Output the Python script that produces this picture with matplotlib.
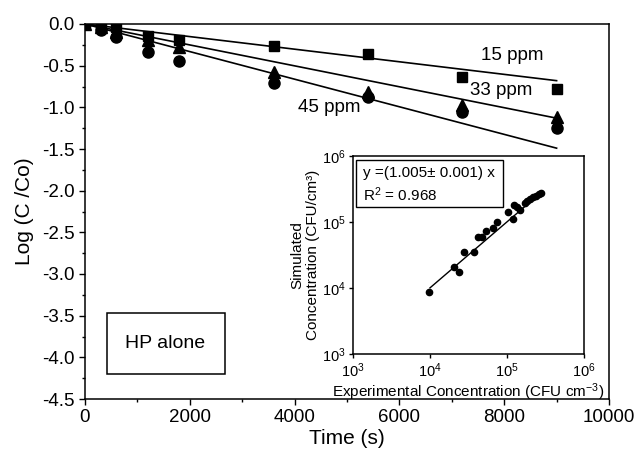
import numpy as np
import matplotlib
matplotlib.use("Agg")
import matplotlib.pyplot as plt
from matplotlib.ticker import MultipleLocator, LogLocator, NullLocator
from matplotlib.patches import Rectangle

plt.rcParams["font.family"] = ["Liberation Sans", "DejaVu Sans"]
plt.rcParams["mathtext.fontset"] = "custom"
plt.rcParams["mathtext.rm"] = "Liberation Sans"
plt.rcParams["mathtext.it"] = "Liberation Sans:italic"
plt.rcParams["mathtext.bf"] = "Liberation Sans:bold"
plt.rcParams["axes.unicode_minus"] = False

# main panel: log(C/Co) vs time for three HP doses
time_s = [0, 300, 600, 1200, 1800, 3600, 5400, 7200, 9000]
log_15 = [0, -0.02, -0.04, -0.14, -0.19, -0.26, -0.36, -0.63, -0.78]
log_33 = [0, -0.04, -0.09, -0.19, -0.28, -0.57, -0.81, -0.97, -1.12]
log_45 = [0, -0.07, -0.16, -0.34, -0.44, -0.71, -0.87, -1.05, -1.25]

# linear fits through origin
fit_t = [0, 9000]
fit_15 = [0, -0.68]
fit_33 = [0, -1.13]
fit_45 = [0, -1.49]

# inset: simulated vs experimental concentration
exp_conc = [9.8e3, 2.05e4, 2.38e4, 2.79e4, 3.69e4, 4.24e4, 4.69e4, 5.33e4, 6.64e4, 7.48e4,
            1.02e5, 1.19e5, 1.24e5, 1.36e5, 1.47e5, 1.71e5, 1.80e5, 1.99e5, 2.20e5, 2.38e5,
            2.58e5, 2.79e5]
sim_conc = [8.8e3, 2.06e4, 1.77e4, 3.47e4, 3.55e4, 5.86e4, 5.86e4, 7.3e4, 8.0e4, 1.01e5,
            1.43e5, 1.10e5, 1.81e5, 1.71e5, 1.51e5, 1.92e5, 2.10e5, 2.20e5, 2.37e5, 2.48e5,
            2.63e5, 2.78e5]
fit_x = np.array([1e4, 2.8e5])
fit_slope = 1.005

fig = plt.figure(figsize=(6.38, 4.54), dpi=100)
ax = fig.add_axes([85 / 638, 1 - 399 / 454, 524 / 638, 375 / 454])

for y in [fit_15, fit_33, fit_45]:
    ax.plot(fit_t, y, color="black", lw=1.2, zorder=2)
ax.plot(time_s, log_15, "s", color="black", ms=7, zorder=3)
ax.plot(time_s, log_33, "^", color="black", ms=8, zorder=3)
ax.plot(time_s, log_45, "o", color="black", ms=8, zorder=3)

ax.set_xlim(0, 10000)
ax.set_ylim(-4.5, 0)
ax.xaxis.set_major_locator(MultipleLocator(2000))
ax.xaxis.set_minor_locator(MultipleLocator(1000))
ax.yaxis.set_major_locator(MultipleLocator(0.5))
ax.yaxis.set_minor_locator(MultipleLocator(0.25))
ax.yaxis.set_major_formatter(lambda v, p: f"{v:.1f}")
ax.tick_params(which="major", direction="out", length=4, width=1, labelsize=13.5,
               top=False, right=False)
ax.tick_params(which="minor", direction="out", length=2.5, width=1, top=False, right=False)
for s in ax.spines.values():
    s.set_linewidth(1.1)

ax.set_xlabel("Time (s)", fontsize=15, labelpad=2)
ax.set_ylabel("Log (C /Co)", fontsize=15, labelpad=6)

ax.text(8150, -0.38, "15 ppm", fontsize=13.5, ha="center", va="center")
ax.text(7950, -0.80, "33 ppm", fontsize=13.5, ha="center", va="center")
ax.text(4660, -1.00, "45 ppm", fontsize=13.5, ha="center", va="center")

ax.add_patch(Rectangle((0.042, 0.067), 0.225, 0.162, transform=ax.transAxes,
                       fill=False, ec="black", lw=1.1))
ax.text(0.153, 0.149, "HP alone", transform=ax.transAxes, fontsize=14,
        ha="center", va="center")

# inset
ax_in = fig.add_axes([353 / 638, 1 - 354 / 454, 231 / 638, 198 / 454])
ax_in.set_xscale("log")
ax_in.set_yscale("log")
ax_in.plot(fit_x, fit_slope * fit_x, color="black", lw=1)
ax_in.plot(exp_conc, sim_conc, "o", color="black", ms=4.5)
ax_in.set_xlim(1e3, 1e6)
ax_in.set_ylim(1e3, 1e6)
ax_in.xaxis.set_major_locator(LogLocator(base=10, numticks=10))
ax_in.yaxis.set_major_locator(LogLocator(base=10, numticks=10))
ax_in.xaxis.set_minor_locator(NullLocator())
ax_in.yaxis.set_minor_locator(NullLocator())
ax_in.tick_params(direction="out", length=3, width=1, labelsize=10.5, pad=2)
for s in ax_in.spines.values():
    s.set_linewidth(1.1)
ax_in.set_xlabel("Experimental Concentration (CFU cm$^{-3}$)", fontsize=11, labelpad=1)
ax_in.set_ylabel("Simulated\nConcentration (CFU/cm\u00b3)", fontsize=11, labelpad=2,
                 linespacing=1.1)

ax_in.add_patch(Rectangle((0.013, 0.742), 0.636, 0.238, transform=ax_in.transAxes,
                          fill=False, ec="black", lw=1))
ax_in.text(0.045, 0.915, "y =(1.005\u00b1 0.001) x", transform=ax_in.transAxes,
           fontsize=11, ha="left", va="center")
ax_in.text(0.045, 0.805, "R$^2$ = 0.968", transform=ax_in.transAxes,
           fontsize=11, ha="left", va="center")

fig.savefig("out.png", dpi=100)
